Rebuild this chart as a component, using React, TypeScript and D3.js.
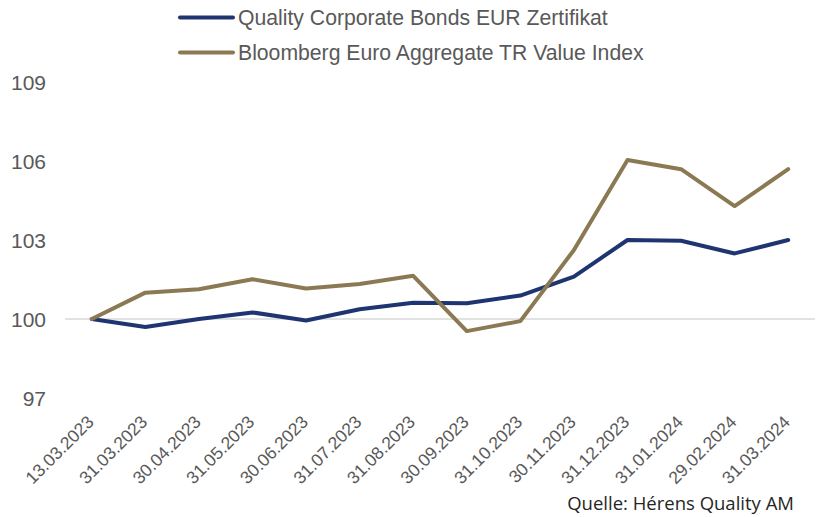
import React from "react";
import * as d3 from "d3";

const categories = [
  "13.03.2023", "31.03.2023", "30.04.2023", "31.05.2023", "30.06.2023", "31.07.2023",
  "31.08.2023", "30.09.2023", "31.10.2023", "30.11.2023", "31.12.2023", "31.01.2024",
  "29.02.2024", "31.03.2024",
];
const qualityValues = [100.0, 99.7, 100.0, 100.25, 99.94, 100.37, 100.62, 100.6, 100.89, 101.61, 103.0, 102.97, 102.49, 103.0];
const bloombergValues = [100.0, 101.0, 101.13, 101.51, 101.16, 101.33, 101.64, 99.54, 99.92, 102.62, 106.04, 105.69, 104.29, 105.69];
const yTicks = [97, 100, 103, 106, 109];
const seriesNames = ["Quality Corporate Bonds EUR Zertifikat", "Bloomberg Euro Aggregate TR Value Index"];
const sourceText = "Quelle: Hérens Quality AM";

const W = 821;
const H = 517;
const NAVY = "#1f3571";
const GOLD = "#8b7953";
const TEXT = "#595959";

export default function App() {
  const x = d3.scaleBand<string>().domain(categories).range([65, 815]);
  const y = d3.scaleLinear().domain([97, 109]).range([398, 82]);
  const cx = (c: string) => (x(c) as number) + x.bandwidth() / 2;
  const line = d3
    .line<number>()
    .x((_, i) => cx(categories[i]))
    .y((v) => y(v));

  const series = [
    { name: seriesNames[0], values: qualityValues, color: NAVY },
    { name: seriesNames[1], values: bloombergValues, color: GOLD },
  ];

  return (
    <svg
      width={W}
      height={H}
      style={{ position: "absolute", left: 0, top: 0, background: "#fff" }}
      fontFamily="Arial, 'Liberation Sans', sans-serif"
    >
      <rect width={W} height={H} fill="#fff" />
      <line x1={65} x2={815} y1={y(100)} y2={y(100)} stroke="#d9d9d9" strokeWidth={1.5} />
      {yTicks.map((t) => (
        <text key={t} x={46} y={y(t)} dy="0.36em" textAnchor="end" fontSize={21} fill={TEXT}>
          {t}
        </text>
      ))}
      {categories.map((c) => {
        const px = cx(c) + 3;
        const py = 423;
        return (
          <text
            key={c}
            x={px}
            y={py}
            textAnchor="end"
            fontSize={17.5}
            fill={TEXT}
            transform={`rotate(-45 ${px} ${py})`}
          >
            {c}
          </text>
        );
      })}
      {series.map((s) => (
        <path
          key={s.name}
          d={line(s.values) as string}
          fill="none"
          stroke={s.color}
          strokeWidth={4}
          strokeLinejoin="round"
          strokeLinecap="round"
        />
      ))}
      {series.map((s, i) => {
        const ly = 17.5 + i * 35;
        return (
          <g key={s.name}>
            <line x1={180} x2={233} y1={ly} y2={ly} stroke={s.color} strokeWidth={4} strokeLinecap="round" />
            <text x={238} y={ly} dy="0.36em" fontSize={21.2} fill={TEXT}>
              {s.name}
            </text>
          </g>
        );
      })}
      <text x={794} y={510} textAnchor="end" fontSize={18.5} fill="#262626" fontFamily="'Open Sans', sans-serif">
        {sourceText}
      </text>
    </svg>
  );
}
